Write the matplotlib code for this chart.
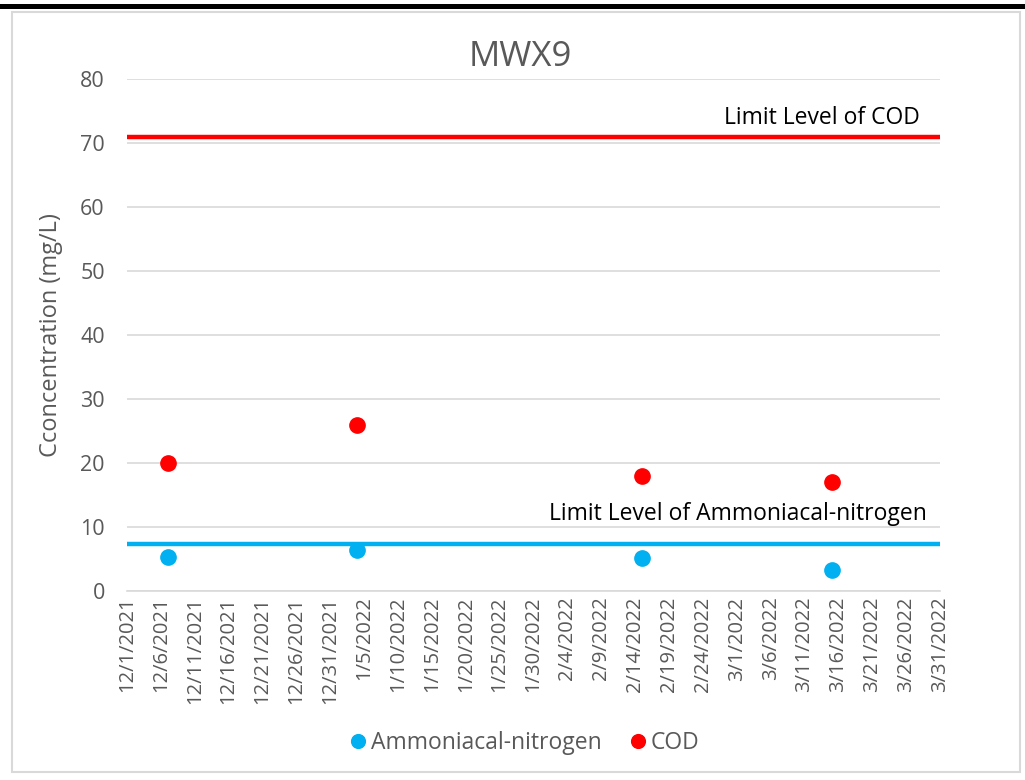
import matplotlib
matplotlib.use("Agg")
import matplotlib.pyplot as plt
import matplotlib.dates as mdates
from matplotlib.patches import Rectangle
import datetime as dt

plt.rcParams['font.family'] = ['Open Sans', 'DejaVu Sans']

sample_dates = ["2021-12-07", "2022-01-04", "2022-02-15", "2022-03-15"]
ammonia = [5.3, 6.4, 5.2, 3.3]
cod = [20, 26, 18, 17]
cod_limit = 71
ammonia_limit = 7.3
x_start = "2021-12-01"
x_end = "2022-03-31"

dates = [dt.datetime.strptime(d, "%Y-%m-%d") for d in sample_dates]
xs = dt.datetime.strptime(x_start, "%Y-%m-%d")
xe = dt.datetime.strptime(x_end, "%Y-%m-%d")

fig = plt.figure(figsize=(10.25, 7.8), dpi=100)
# frame
fig.patches.append(Rectangle((12/1025, 1-772/780), 1008/1025, 760/780, transform=fig.transFigure,
                             fill=False, edgecolor='#d9d9d9', linewidth=1.5))
fig.patches.append(Rectangle((0, 1-9/780), 1, 5/780, transform=fig.transFigure,
                             facecolor='black', edgecolor='none'))

ax = fig.add_axes([127/1025, 1-591/780, (940-127)/1025, (591-79)/780])
ax.set_xlim(mdates.date2num(xs), mdates.date2num(xe))
ax.set_ylim(0, 80)
ax.set_yticks(range(0, 81, 10))
ax.grid(axis='y', color='#d9d9d9', linewidth=1.2)
ax.set_axisbelow(True)
for s in ['top', 'right', 'left']:
    ax.spines[s].set_visible(False)
ax.spines['bottom'].set_color('#d9d9d9')
ax.spines['bottom'].set_linewidth(1.2)

ticks = [mdates.date2num(xs) + 5 * i for i in range(25)]
ax.set_xticks(ticks)
ax.set_xticklabels([f"{mdates.num2date(t).month}/{mdates.num2date(t).day}/{mdates.num2date(t).year}" for t in ticks],
                   rotation=90, fontsize=14.5, color='#595959')
ax.tick_params(axis='x', length=0, pad=4)
ax.tick_params(axis='y', length=0, labelsize=15.5, labelcolor='#595959', pad=16)

ax.plot([xs, xe], [cod_limit, cod_limit], color='#ff0000', linewidth=3.2, solid_capstyle='round')
ax.plot([xs, xe], [ammonia_limit, ammonia_limit], color='#00b0f0', linewidth=3.2, solid_capstyle='round')

ax.plot(dates, ammonia, 'o', color='#00b0f0', markersize=11, label='Ammoniacal-nitrogen', linestyle='none')
ax.plot(dates, cod, 'o', color='#ff0000', markersize=11, label='COD', linestyle='none')

ax.text(mdates.date2num(xe) - 3, 73.9, "Limit Level of COD", fontsize=16.5, color='black',
        ha='right', va='center')
ax.text(mdates.date2num(xe) - 1.9, 12.0, "Limit Level of Ammoniacal-nitrogen", fontsize=16.5,
        color='black', ha='right', va='center')

ax.set_ylabel("Cconcentration (mg/L)", fontsize=17, color='#595959', labelpad=12)
fig.text(520/1025, 1-57/780, "MWX9", fontsize=25, color='#595959', ha='center', va='center')

fig.legend(handles=ax.get_lines()[2:], loc='center', bbox_to_anchor=(523/1025, 1-743/780),
           ncol=2, frameon=False, fontsize=16.5, labelcolor='#595959', handletextpad=0.05,
           columnspacing=1.1, markerscale=0.9, handlelength=1.0)

fig.savefig("out.png", dpi=100)
